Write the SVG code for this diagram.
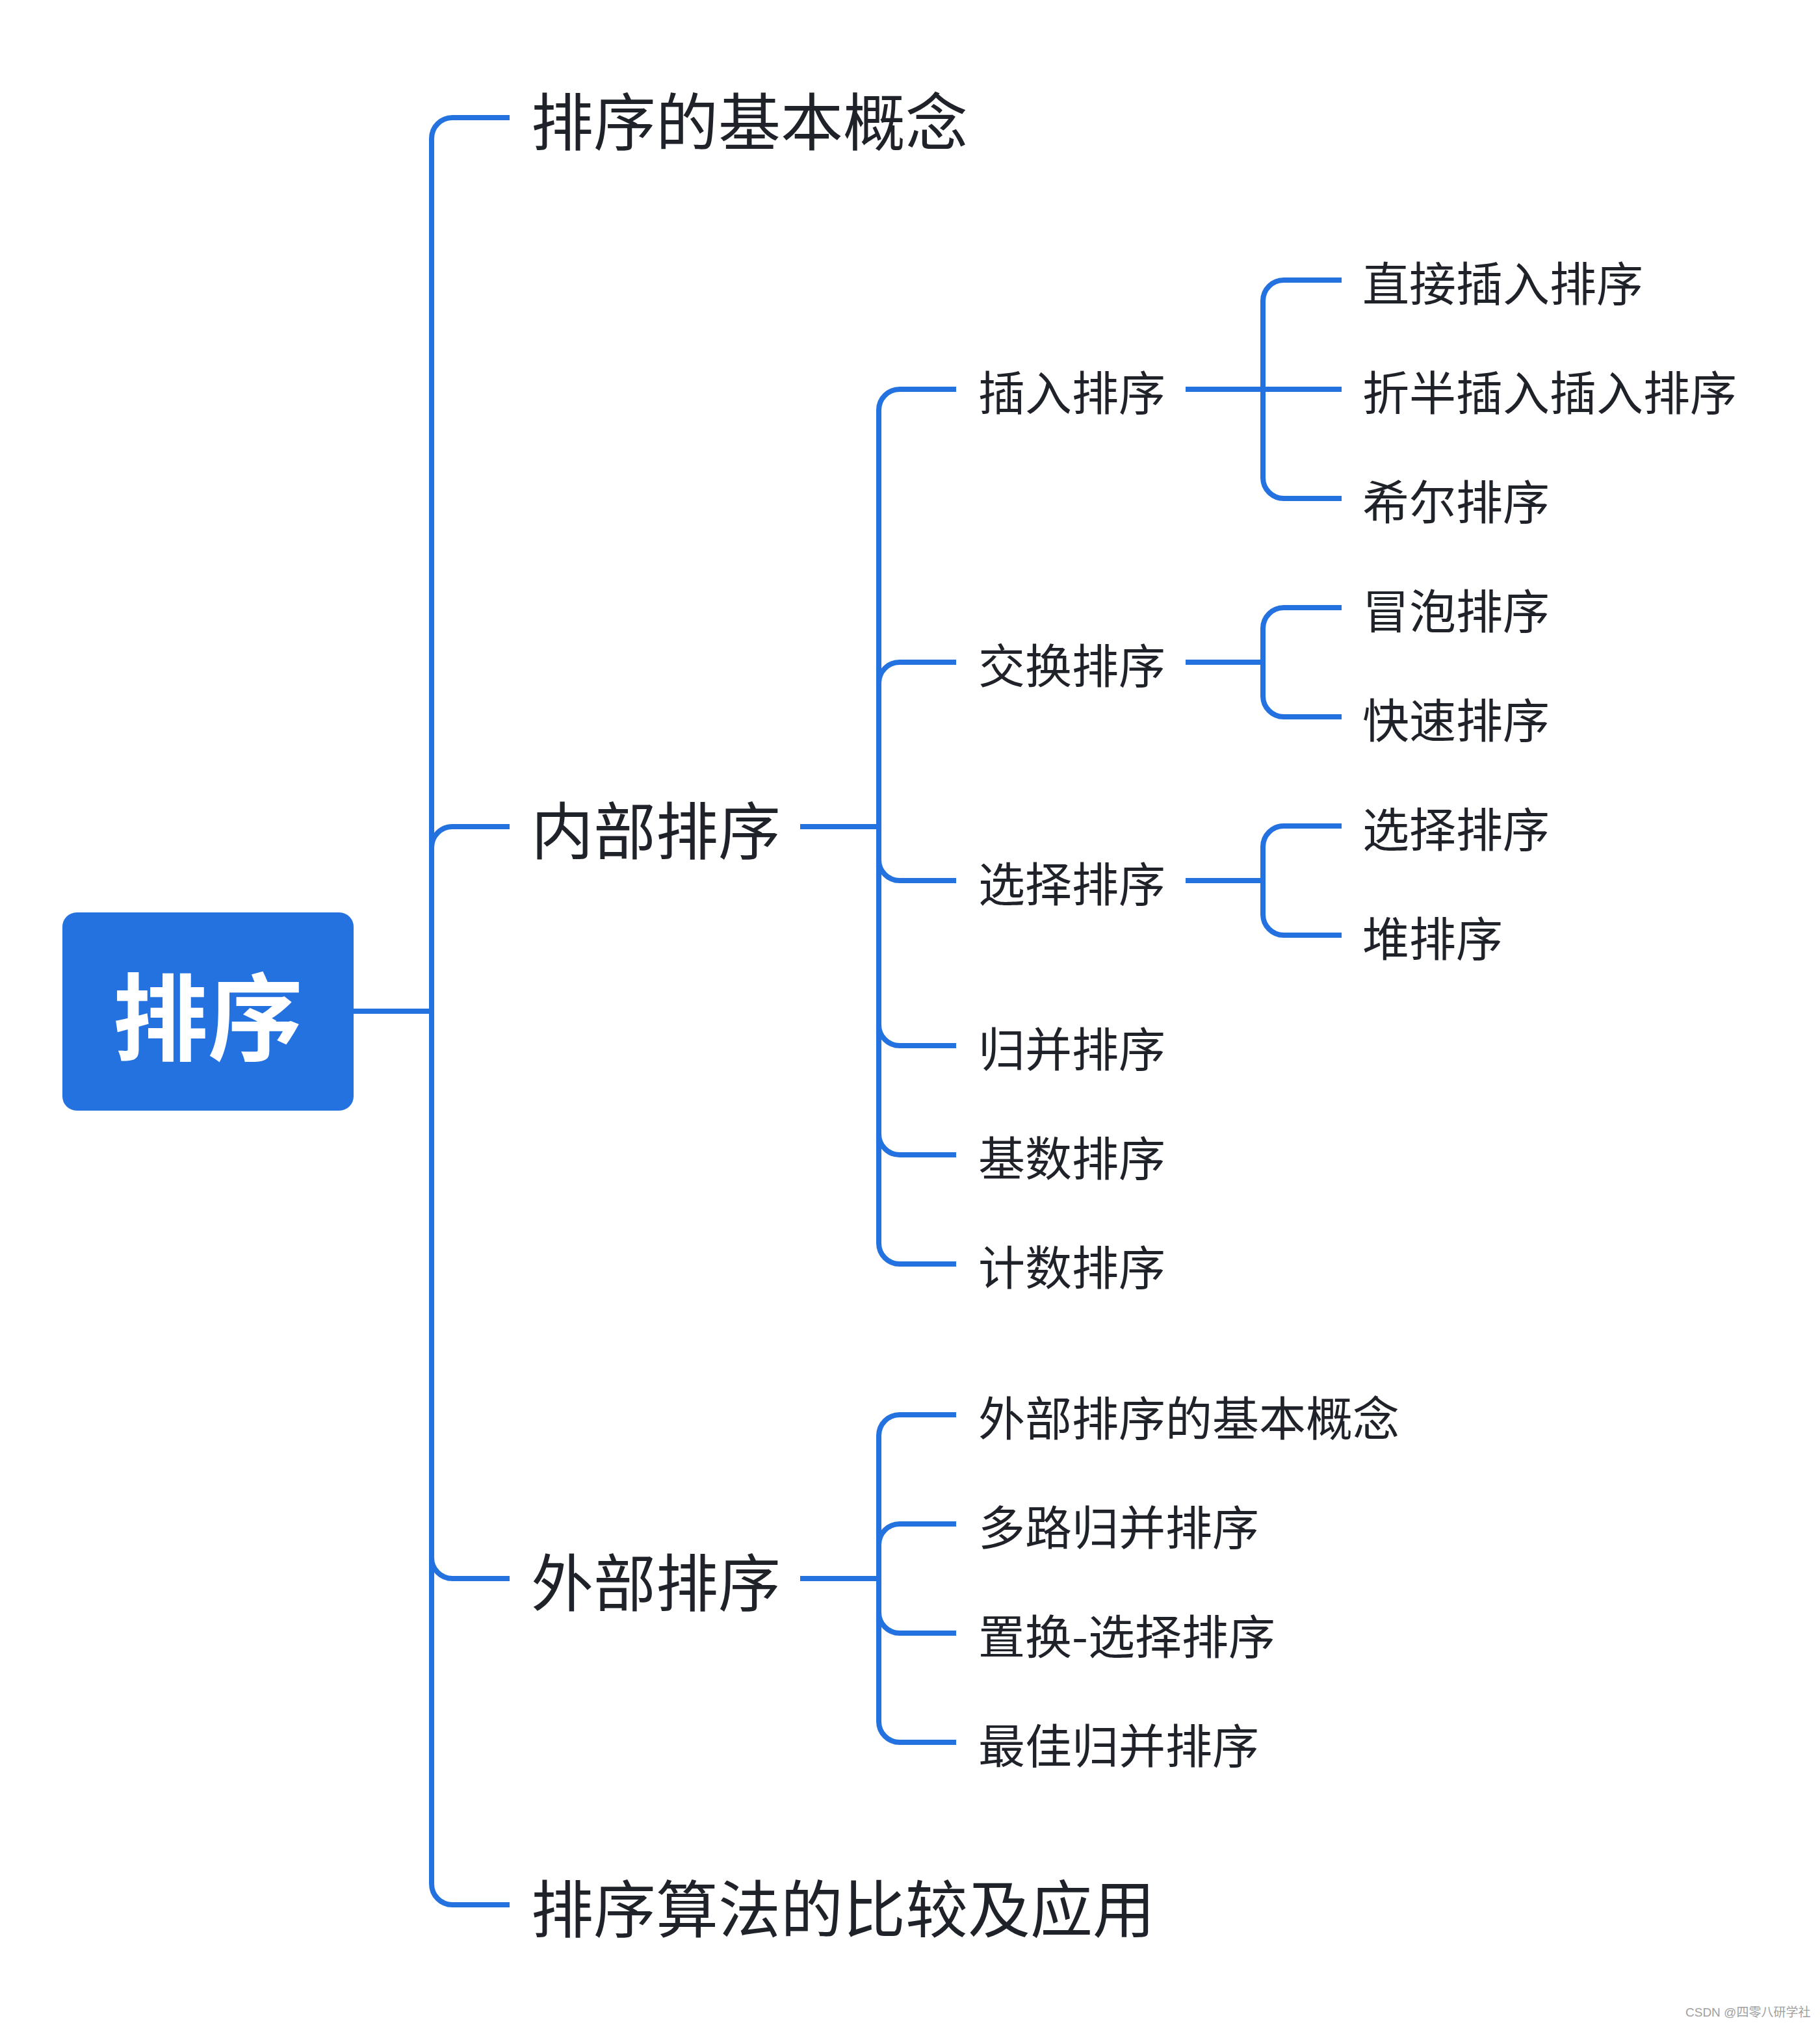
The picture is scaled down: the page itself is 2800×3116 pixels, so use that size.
<svg xmlns="http://www.w3.org/2000/svg" width="2800" height="3116" viewBox="0 0 2800 3116">
<style>
.c{fill:none;stroke:#2372E0;stroke-width:8;stroke-linecap:butt}
.t{font-family:"Noto Sans CJK SC","Noto Sans",sans-serif;fill:#1F2329}
.l1{font-size:96px}
.l2{font-size:72px}
.root{font-family:"Noto Sans CJK SC","Noto Sans",sans-serif;font-size:146px;font-weight:bold;fill:#FFFFFF}
.wm{font-family:"Liberation Sans","Noto Sans CJK SC",sans-serif;font-size:19px;fill:#A0A0A0}
</style>
<rect width="2800" height="3116" fill="#FFFFFF"/>
<g id="connectors">
  <path class="c" d="M544 1556 H664"/>
  <path class="c" d="M664 213 V2899"/>
  <path class="c" d="M664 213 A32 32 0 0 1 696 181 H784"/>
  <path class="c" d="M664 1304 A32 32 0 0 1 696 1272 H784"/>
  <path class="c" d="M664 2397 A32 32 0 0 0 696 2429 H784"/>
  <path class="c" d="M664 2899 A32 32 0 0 0 696 2931 H784"/>
  <path class="c" d="M1231 1272 H1352"/>
  <path class="c" d="M1352 631 V1913"/>
  <path class="c" d="M1352 631 A32 32 0 0 1 1384 599 H1471"/>
  <path class="c" d="M1352 1051 A32 32 0 0 1 1384 1019 H1471"/>
  <path class="c" d="M1352 1323 A32 32 0 0 0 1384 1355 H1471"/>
  <path class="c" d="M1352 1577 A32 32 0 0 0 1384 1609 H1471"/>
  <path class="c" d="M1352 1745 A32 32 0 0 0 1384 1777 H1471"/>
  <path class="c" d="M1352 1913 A32 32 0 0 0 1384 1945 H1471"/>
  <path class="c" d="M1824 599 H2064"/>
  <path class="c" d="M1943 463 V735"/>
  <path class="c" d="M1943 463 A32 32 0 0 1 1975 431 H2064"/>
  <path class="c" d="M1943 735 A32 32 0 0 0 1975 767 H2064"/>
  <path class="c" d="M1824 1019 H1943"/>
  <path class="c" d="M1943 967 V1071"/>
  <path class="c" d="M1943 967 A32 32 0 0 1 1975 935 H2064"/>
  <path class="c" d="M1943 1071 A32 32 0 0 0 1975 1103 H2064"/>
  <path class="c" d="M1824 1355 H1943"/>
  <path class="c" d="M1943 1303 V1407"/>
  <path class="c" d="M1943 1303 A32 32 0 0 1 1975 1271 H2064"/>
  <path class="c" d="M1943 1407 A32 32 0 0 0 1975 1439 H2064"/>
  <path class="c" d="M1231 2429 H1352"/>
  <path class="c" d="M1352 2209 V2649"/>
  <path class="c" d="M1352 2209 A32 32 0 0 1 1384 2177 H1471"/>
  <path class="c" d="M1352 2377 A32 32 0 0 1 1384 2345 H1471"/>
  <path class="c" d="M1352 2481 A32 32 0 0 0 1384 2513 H1471"/>
  <path class="c" d="M1352 2649 A32 32 0 0 0 1384 2681 H1471"/>
</g>
<g id="root">
  <rect x="96" y="1404" width="448" height="305" rx="22" ry="22" fill="#2372E0"/>
  <text class="root" x="320" y="1620" text-anchor="middle">排序</text>
</g>
<g id="n-basic"><text class="t l1" x="817" y="223">排序的基本概念</text></g>
<g id="n-internal"><text class="t l1" x="817" y="1314">内部排序</text></g>
<g id="n-external"><text class="t l1" x="817" y="2471">外部排序</text></g>
<g id="n-compare"><text class="t l1" x="817" y="2973">排序算法的比较及应用</text></g>
<g id="n-insert"><text class="t l2" x="1505" y="631">插入排序</text></g>
<g id="n-swap"><text class="t l2" x="1505" y="1051">交换排序</text></g>
<g id="n-select"><text class="t l2" x="1505" y="1387">选择排序</text></g>
<g id="n-merge"><text class="t l2" x="1505" y="1641">归并排序</text></g>
<g id="n-radix"><text class="t l2" x="1505" y="1809">基数排序</text></g>
<g id="n-count"><text class="t l2" x="1505" y="1977">计数排序</text></g>
<g id="n-direct"><text class="t l2" x="2096" y="463">直接插入排序</text></g>
<g id="n-binary"><text class="t l2" x="2096" y="631">折半插入插入排序</text></g>
<g id="n-shell"><text class="t l2" x="2096" y="799">希尔排序</text></g>
<g id="n-bubble"><text class="t l2" x="2096" y="967">冒泡排序</text></g>
<g id="n-quick"><text class="t l2" x="2096" y="1135">快速排序</text></g>
<g id="n-selsort"><text class="t l2" x="2096" y="1303">选择排序</text></g>
<g id="n-heap"><text class="t l2" x="2096" y="1471">堆排序</text></g>
<g id="n-extbasic"><text class="t l2" x="1505" y="2209">外部排序的基本概念</text></g>
<g id="n-multiway"><text class="t l2" x="1505" y="2377">多路归并排序</text></g>
<g id="n-replace"><text class="t l2" x="1505" y="2545">置换-选择排序</text></g>
<g id="n-optimal"><text class="t l2" x="1505" y="2713">最佳归并排序</text></g>
<text class="wm" x="2593" y="3103">CSDN @四零八研学社</text>
</svg>
